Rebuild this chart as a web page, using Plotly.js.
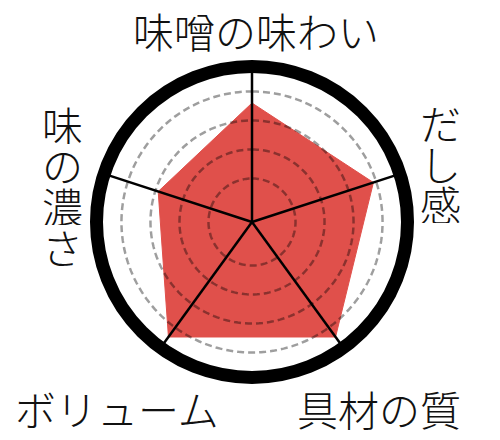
<!DOCTYPE html>
<html>
<head>
<meta charset="utf-8">
<script src="https://cdn.plot.ly/plotly-3.0.1.min.js"></script>
<style>
  html, body { margin: 0; padding: 0; background: #fff; }
  #chart { width: 500px; height: 440px; }
</style>
</head>
<body>
<div id="chart"></div>
<script>
// categories, clockwise from the top
const categories = ["味噌の味わい", "だし感", "具材の質", "ボリューム", "味の濃さ"];
const scores = [4.1, 4.4, 4.9, 4.9, 3.4];
const gridLevels = [1.5, 2.5, 3.5, 4.5];
const rMax = 5.36;

const step = 360 / categories.length;
const angles = categories.map((c, i) => i * step);

// red area
const area = {
  type: "scatterpolar",
  r: scores.concat([scores[0]]),
  theta: angles.concat([angles[0]]),
  mode: "lines",
  fill: "toself",
  fillcolor: "#e0504b",
  line: { color: "#e0504b", width: 1 },
  hoverinfo: "skip"
};

// dashed rings drawn over the area
const ringTheta = [];
for (let a = 0; a <= 360; a += 2) ringTheta.push(a);
const rings = gridLevels.map(lv => ({
  type: "scatterpolar",
  r: ringTheta.map(() => lv),
  theta: ringTheta,
  mode: "lines",
  line: { color: "rgba(0,0,0,0.38)", width: 2.5, dash: "7px,4px" },
  hoverinfo: "skip"
}));

// spokes
const spokes = angles.map(a => ({
  type: "scatterpolar",
  r: [0, rMax],
  theta: [a, a],
  mode: "lines",
  line: { color: "#000", width: 2.5 },
  hoverinfo: "skip"
}));

// labels: top and bottom ones horizontal, side ones stacked one char per line
const labelFont = { family: "Noto Sans CJK JP", size: 41, color: "#111", weight: 300 };
const annotations = [
  { text: categories[0], x: 256 / 500, y: 1 - 30 / 440 },
  { text: categories[2], x: 379 / 500, y: 1 - 408 / 440 },
  { text: categories[3], x: 117 / 500, y: 1 - 408 / 440 }
].map(a => Object.assign(a, {
  xref: "paper", yref: "paper", showarrow: false,
  xanchor: "center", yanchor: "middle", font: labelFont
}));

function stack(label, cx, top) {
  label.split("").forEach((ch, i) => {
    annotations.push({
      text: ch, xref: "paper", yref: "paper", showarrow: false,
      x: cx / 500, y: 1 - (top + 20 + i * 40.5) / 440,
      xanchor: "center", yanchor: "middle", height: 40, valign: "middle",
      font: labelFont
    });
  });
}
stack(categories[1], 440, 102);
stack(categories[4], 62, 104);

const layout = {
  width: 500,
  height: 440,
  margin: { l: 0, r: 0, t: 0, b: 0 },
  paper_bgcolor: "#fff",
  showlegend: false,
  polar: {
    domain: { x: [0.193, 0.815], y: [0.142, 0.849] },
    bgcolor: "#fff",
    radialaxis: { visible: false, range: [0, rMax] },
    angularaxis: {
      type: "linear",
      rotation: 90,
      direction: "clockwise",
      showgrid: false,
      showticklabels: false,
      ticks: "",
      showline: true,
      linecolor: "#000",
      linewidth: 13
    }
  },
  annotations: annotations
};

Plotly.newPlot("chart", [area].concat(rings, spokes), layout, { displayModeBar: false, staticPlot: true });
</script>
</body>
</html>
